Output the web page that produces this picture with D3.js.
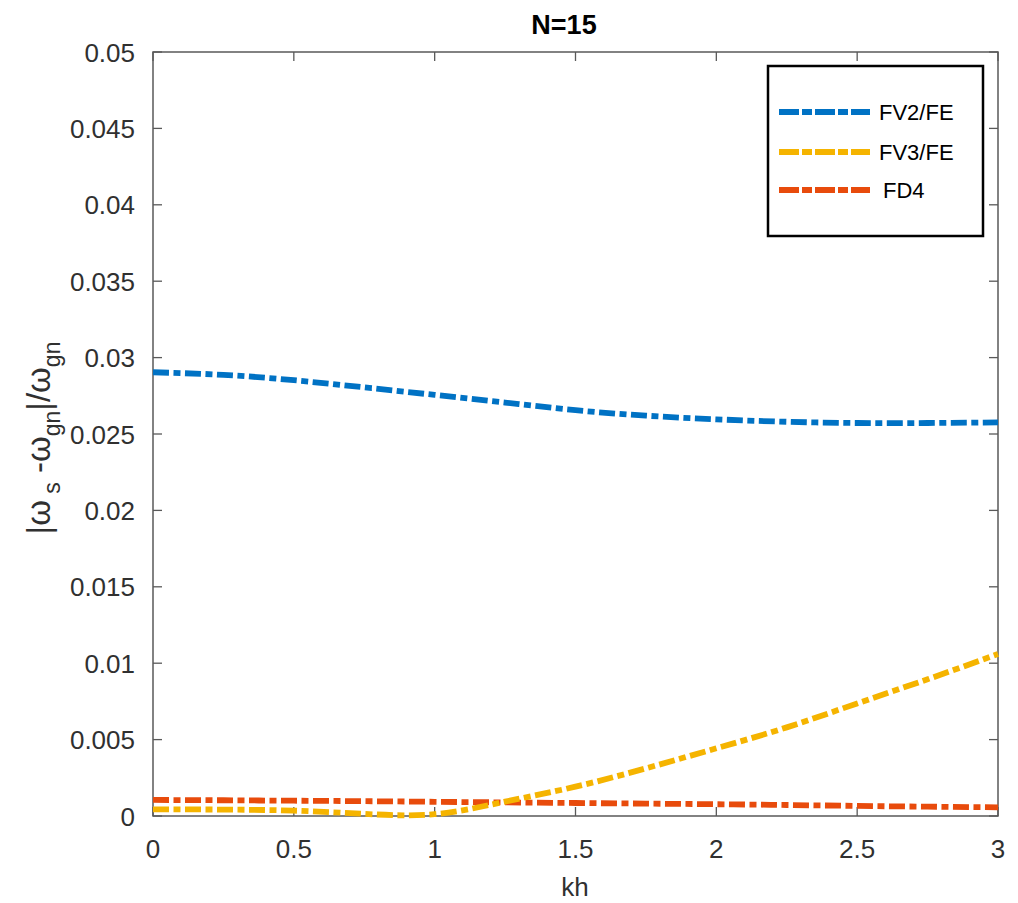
<!DOCTYPE html>
<html>
<head>
<meta charset="utf-8">
<script src="https://cdn.jsdelivr.net/npm/d3@7"></script>
<style>
  body { margin: 0; background: #fff; }
  text { font-family: "Liberation Sans", Arial, sans-serif; }
</style>
</head>
<body>
<div id="chart"></div>
<script>
// kh samples and the three error curves
var kh = [0, 0.25, 0.5, 0.75, 1, 1.25, 1.5, 1.75, 2, 2.25, 2.5, 2.75, 3];
var fv2 = [0.02904, 0.02887, 0.02852, 0.02805, 0.02756, 0.02706, 0.02656, 0.02620, 0.02596, 0.02580, 0.02572, 0.02572, 0.02576];
var fv3 = [0.00044, 0.00042, 0.00035, 0.00014, 0.00012, 0.00094, 0.00192, 0.00312, 0.00443, 0.00580, 0.00737, 0.00895, 0.01060];
var fd4 = [0.00105, 0.00103, 0.00100, 0.00097, 0.00093, 0.00089, 0.00085, 0.00081, 0.00077, 0.00072, 0.00066, 0.00061, 0.00057];

var xTicks = [0, 0.5, 1, 1.5, 2, 2.5, 3];
var xTickLabels = ["0", "0.5", "1", "1.5", "2", "2.5", "3"];
var yTicks = [0, 0.005, 0.01, 0.015, 0.02, 0.025, 0.03, 0.035, 0.04, 0.045, 0.05];
var yTickLabels = ["0", "0.005", "0.01", "0.015", "0.02", "0.025", "0.03", "0.035", "0.04", "0.045", "0.05"];

var seriesNames = ["FV2/FE", "FV3/FE", "FD4"];
var seriesColors = ["#0072c4", "#f5b400", "#e84b0c"];

var width = 1018, height = 903;
var pLeft = 153, pRight = 998, pTop = 52, pBottom = 816;

var svg = d3.select("#chart").append("svg")
    .attr("width", width)
    .attr("height", height);

var x = d3.scaleLinear().domain([0, 3]).range([pLeft, pRight]);
var y = d3.scaleLinear().domain([0, 0.05]).range([pBottom, pTop]);

var axisColor = "#595959";

// box
svg.append("rect")
    .attr("x", pLeft).attr("y", pTop)
    .attr("width", pRight - pLeft).attr("height", pBottom - pTop)
    .attr("fill", "none").attr("stroke", axisColor).attr("stroke-width", 1.5);

// ticks inside on all four sides
var tl = 9;
svg.append("g").selectAll("line")
    .data(xTicks).enter().append("line")
    .attr("x1", function (d) { return x(d); }).attr("x2", function (d) { return x(d); })
    .attr("y1", pBottom).attr("y2", pBottom - tl)
    .attr("stroke", axisColor).attr("stroke-width", 1.3);
svg.append("g").selectAll("line")
    .data(xTicks).enter().append("line")
    .attr("x1", function (d) { return x(d); }).attr("x2", function (d) { return x(d); })
    .attr("y1", pTop).attr("y2", pTop + tl)
    .attr("stroke", axisColor).attr("stroke-width", 1.3);
svg.append("g").selectAll("line")
    .data(yTicks).enter().append("line")
    .attr("x1", pLeft).attr("x2", pLeft + tl)
    .attr("y1", function (d) { return y(d); }).attr("y2", function (d) { return y(d); })
    .attr("stroke", axisColor).attr("stroke-width", 1.3);
svg.append("g").selectAll("line")
    .data(yTicks).enter().append("line")
    .attr("x1", pRight).attr("x2", pRight - tl)
    .attr("y1", function (d) { return y(d); }).attr("y2", function (d) { return y(d); })
    .attr("stroke", axisColor).attr("stroke-width", 1.3);

// tick labels
svg.append("g").selectAll("text")
    .data(xTicks).enter().append("text")
    .attr("x", function (d) { return x(d); })
    .attr("y", 858)
    .attr("text-anchor", "middle")
    .style("font-size", "26px")
    .style("fill", "#303030")
    .text(function (d, i) { return xTickLabels[i]; });

svg.append("g").selectAll("text")
    .data(yTicks).enter().append("text")
    .attr("x", 135)
    .attr("y", function (d) { return y(d) + 9.5; })
    .attr("text-anchor", "end")
    .style("font-size", "26px")
    .style("fill", "#303030")
    .text(function (d, i) { return yTickLabels[i]; });

// title
svg.append("text")
    .attr("x", 564).attr("y", 34)
    .attr("text-anchor", "middle")
    .style("font-size", "27px")
    .style("font-weight", "bold")
    .style("fill", "#000")
    .text("N=15");

// x label
svg.append("text")
    .attr("x", 575).attr("y", 896)
    .attr("text-anchor", "middle")
    .style("font-size", "26px")
    .style("fill", "#303030")
    .text("kh");

// y label  |ω_s -ω_gn|/ω_gn
var yl = svg.append("text")
    .attr("transform", "translate(50," + 438 + ") rotate(-90)")
    .attr("text-anchor", "middle")
    .style("font-size", "33px")
    .style("fill", "#303030");
yl.append("tspan").text("|\u03c9");
yl.append("tspan").attr("dy", 10).style("font-size", "23px").text(" s");
yl.append("tspan").attr("dy", -10).text(" -\u03c9");
yl.append("tspan").attr("dy", 10).style("font-size", "23px").text("gn");
yl.append("tspan").attr("dy", -10).text("|/\u03c9");
yl.append("tspan").attr("dy", 10).style("font-size", "23px").text("gn");

// curves
var series = [fv2, fd4, fv3];
var order = [0, 2, 1];
var line = d3.line()
    .x(function (d, i) { return x(kh[i]); })
    .y(function (d) { return y(d); })
    .curve(d3.curveNatural);

svg.append("g").selectAll("path")
    .data(series).enter().append("path")
    .attr("d", function (d) { return line(d); })
    .attr("fill", "none")
    .attr("stroke", function (d, i) { return seriesColors[order[i]]; })
    .attr("stroke-width", 5.8)
    .attr("stroke-dasharray", "16,4.5,7,4.5");

// legend
var lg = svg.append("g");
lg.append("rect")
    .attr("x", 768).attr("y", 66)
    .attr("width", 215).attr("height", 170)
    .attr("fill", "#fff").attr("stroke", "#000").attr("stroke-width", 2.5);

var legY = [112, 152, 190];
var legTextX = [879, 879, 883];
lg.selectAll(".legline")
    .data(seriesNames).enter().append("line")
    .attr("class", "legline")
    .attr("x1", 779).attr("x2", 870)
    .attr("y1", function (d, i) { return legY[i]; })
    .attr("y2", function (d, i) { return legY[i]; })
    .attr("stroke", function (d, i) { return seriesColors[i]; })
    .attr("stroke-width", 5.8)
    .attr("stroke-dasharray", "20,3,10,3");
lg.selectAll(".legtext")
    .data(seriesNames).enter().append("text")
    .attr("class", "legtext")
    .attr("x", function (d, i) { return legTextX[i]; })
    .attr("y", function (d, i) { return legY[i] + 8; })
    .style("font-size", "22px")
    .style("fill", "#000")
    .text(function (d) { return d; });
</script>
</body>
</html>
